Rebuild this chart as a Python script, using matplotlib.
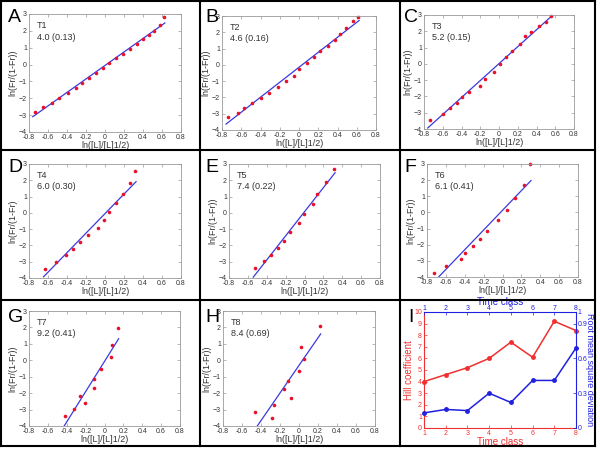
import numpy as np
import matplotlib
matplotlib.use('Agg')
from matplotlib import pyplot as plt
from matplotlib.lines import Line2D

plt.rcParams['font.family'] = ['Liberation Sans', 'DejaVu Sans']

# Hill plot data, one pair of arrays per time class
x_T1 = [-0.74, -0.65, -0.556, -0.48, -0.39, -0.31, -0.24, -0.165, -0.09, -0.025,
        0.04, 0.116, 0.187, 0.264, 0.334, 0.40, 0.46, 0.52, 0.574, 0.62]
y_T1 = [-2.82, -2.53, -2.27, -2.0, -1.7, -1.39, -1.1, -0.78, -0.49, -0.2,
        0.1, 0.37, 0.65, 0.94, 1.22, 1.51, 1.73, 2.0, 2.37, 2.82]
x_T2 = [-0.738, -0.633, -0.573, -0.486, -0.399, -0.311, -0.22, -0.136, -0.056, 0.003,
        0.084, 0.16, 0.213, 0.30, 0.37, 0.43, 0.486, 0.556, 0.615]
y_T2 = [-3.22, -2.98, -2.63, -2.37, -2.06, -1.73, -1.39, -1.02, -0.67, -0.27,
        0.12, 0.49, 0.84, 1.18, 1.53, 1.9, 2.29, 2.67, 2.96]
x_T3 = [-0.74, -0.60, -0.527, -0.445, -0.39, -0.32, -0.20, -0.153, -0.053, 0.007,
        0.078, 0.139, 0.22, 0.28, 0.345, 0.427, 0.505, 0.55]
y_T3 = [-3.45, -3.08, -2.73, -2.41, -2.06, -1.71, -1.35, -0.92, -0.51, -0.02,
        0.41, 0.82, 1.24, 1.69, 1.96, 2.33, 2.57, 2.92]
x_T4 = [-0.627, -0.52, -0.415, -0.34, -0.264, -0.176, -0.07, -0.007, 0.046, 0.116,
        0.194, 0.264, 0.317]
y_T4 = [-3.42, -3.0, -2.6, -2.21, -1.78, -1.37, -0.94, -0.43, 0.06, 0.61,
        1.18, 1.86, 2.56]
x_T5 = [-0.523, -0.428, -0.35, -0.28, -0.22, -0.152, -0.057, -0.004, 0.092, 0.13,
        0.23, 0.314]
y_T5 = [-3.39, -2.98, -2.57, -2.16, -1.71, -1.2, -0.65, -0.04, 0.53, 1.18,
        1.9, 2.67]
x_T6 = [-0.73, -0.595, -0.44, -0.40, -0.313, -0.236, -0.165, -0.05, 0.046, 0.134,
        0.232, 0.292]
y_T6 = [-3.73, -3.31, -2.9, -2.52, -2.06, -1.65, -1.13, -0.5, 0.17, 0.92,
        1.73, 2.98]
x_T7 = [-0.417, -0.32, -0.258, -0.205, -0.11, -0.106, -0.04, 0.067, 0.078, 0.14]
y_T7 = [-3.39, -2.98, -2.15, -2.58, -1.7, -1.16, -0.55, 0.18, 0.93, 1.95]
x_T8 = [-0.468, -0.28, -0.268, -0.158, -0.116, -0.088, 0.0, 0.018, 0.049, 0.218]
y_T8 = [-3.12, -3.53, -2.72, -1.74, -1.24, -2.27, -0.65, 0.83, 0.06, 2.09]

names = ['T1', 'T2', 'T3', 'T4', 'T5', 'T6', 'T7', 'T8']
hill = [4.0, 4.6, 5.2, 6.0, 7.4, 6.1, 9.2, 8.4]
rmsd = [0.13, 0.16, 0.15, 0.30, 0.22, 0.41, 0.41, 0.69]
time_class = [1, 2, 3, 4, 5, 6, 7, 8]
panel_letters = ['A', 'B', 'C', 'D', 'E', 'F', 'G', 'H', 'I']
ylabels = ['ln(Fr/(1-Fr))'] * 8
ylabels[3] = 'ln(Fr/(1-Fr)'

xs = [x_T1, x_T2, x_T3, x_T4, x_T5, x_T6, x_T7, x_T8]
ys = [y_T1, y_T2, y_T3, y_T4, y_T5, y_T6, y_T7, y_T8]

W, H = 600, 450
fig = plt.figure(figsize=(6, 4.5), dpi=100)


def px_rect(l, t, r, b):
    return [l / W, 1 - b / H, (r - l) / W, (b - t) / H]


# axes boxes in pixels (left, top, right, bottom)
rects = [(29, 14, 181, 132), (222, 16, 376, 130), (424, 15, 574, 129),
         (29, 164, 181, 278), (229, 164, 380, 278), (427, 164, 578, 277),
         (29, 311, 180, 426), (223, 311, 375, 426), (424, 312, 576, 428)]

gray = '#9a9a9a'
txt = '#333333'

for i in range(8):
    ax = fig.add_axes(px_rect(*rects[i]))
    x = np.array(xs[i])
    y = np.array(ys[i])
    n = hill[i]
    b = y.mean() - n * x.mean()
    xl = np.array([x.min() - 0.02, x.max() + 0.01])
    ax.plot(xl, n * xl + b, color='#3a3ae0', lw=0.9)
    ax.plot(x, y, 'o', color='#e8102a', ms=2.6, mec='none', clip_on=False)
    ax.set_xlim(-0.8, 0.8)
    ax.set_ylim(-4, 3)
    ax.set_xticks(np.round(np.arange(-0.8, 0.81, 0.2), 1))
    ax.set_xticklabels(['-0.8', '-0.6', '-0.4', '-0.2', '0', '0.2', '0.4', '0.6', '0.8'])
    ax.set_yticks(range(-4, 4))
    ax.tick_params(labelsize=5, colors=gray, labelcolor=txt, direction='in',
                   length=2, width=0.5, pad=1.5, top=True, right=True)
    for s in ax.spines.values():
        s.set_color(gray)
        s.set_linewidth(0.6)
    ax.set_xlabel('ln([L]/[L]1/2)', fontsize=6.5, color=txt, labelpad=0)
    ax.set_ylabel(ylabels[i], fontsize=6.5, color=txt, labelpad=1)
    ax.text(0.05, 0.9, names[i], transform=ax.transAxes, fontsize=6.5, color=txt,
            va='center')
    ax.text(0.05, 0.8, '%.1f (%.2f)' % (hill[i], rmsd[i]), transform=ax.transAxes,
            fontsize=6.5, color=txt, va='center')

# panel I: summary of Hill coefficient and RMSD
red = '#f03030'
blue = '#2020e0'
ax = fig.add_axes(px_rect(*rects[8]))
ax.plot(time_class, hill, '-o', color=red, ms=2.5, lw=1.1, clip_on=False)
ax.set_xlim(1, 8)
ax.set_ylim(0, 10)
ax.set_xticks(time_class)
ax.set_yticks(range(0, 11))
ax.tick_params(labelsize=5, colors=red, direction='in', length=2, width=0.5, pad=1.5)
ax.set_xlabel('Time class', fontsize=7, color=red, labelpad=0)
ax.set_ylabel('Hill coefficient', fontsize=7, color=red, labelpad=0)
ax.spines['left'].set_color(red)
ax.spines['bottom'].set_color(red)
ax.spines['top'].set_visible(False)
ax.spines['right'].set_visible(False)

ax2 = ax.twinx()
ax2.plot(time_class, rmsd, '-o', color=blue, ms=2.5, lw=1.1, clip_on=False)
ax2.set_ylim(0, 1)
ax2.set_yticks([0, 0.3, 0.6, 0.9, 1])
ax2.set_yticklabels(['0', '0.3', '0.6', '0.9', '1'])
ax2.tick_params(labelsize=5, colors=blue, direction='in', length=2, width=0.5, pad=1)
ax2.set_ylabel('Root mean square deviation', fontsize=6.5, color=blue,
               rotation=270, labelpad=5)
for s in ['left', 'bottom', 'top']:
    ax2.spines[s].set_visible(False)
ax2.spines['right'].set_color(blue)

ax3 = ax.twiny()
ax3.set_xlim(1, 8)
ax3.set_xticks(time_class)
ax3.tick_params(labelsize=5, colors=blue, direction='in', length=2, width=0.5, pad=0.3)
ax3.set_xlabel('Time class', fontsize=7, color=blue, labelpad=0)
for s in ['left', 'bottom', 'right']:
    ax3.spines[s].set_visible(False)
ax3.spines['top'].set_color(blue)

# panel letters
letter_pos = [(8, 22), (205, 22), (404, 22), (8, 172), (205, 172), (404, 172),
              (8, 322), (205, 322), (408, 322)]
for L, (px, py) in zip(panel_letters, letter_pos):
    fig.text(px / W, 1 - py / H, L, fontsize=14, color='black', va='baseline')

# black frame lines between panels
for xv in [1, 199.5, 399.5, 594.5]:
    fig.add_artist(Line2D([xv / W, xv / W], [1 - 1 / H, 1 - 445.5 / H],
                          color='black', lw=1.5))
for yv in [1, 150, 300, 445.5]:
    fig.add_artist(Line2D([1 / W, 594.5 / W], [1 - yv / H, 1 - yv / H],
                          color='black', lw=1.5))

fig.savefig('out.png', dpi=100)
